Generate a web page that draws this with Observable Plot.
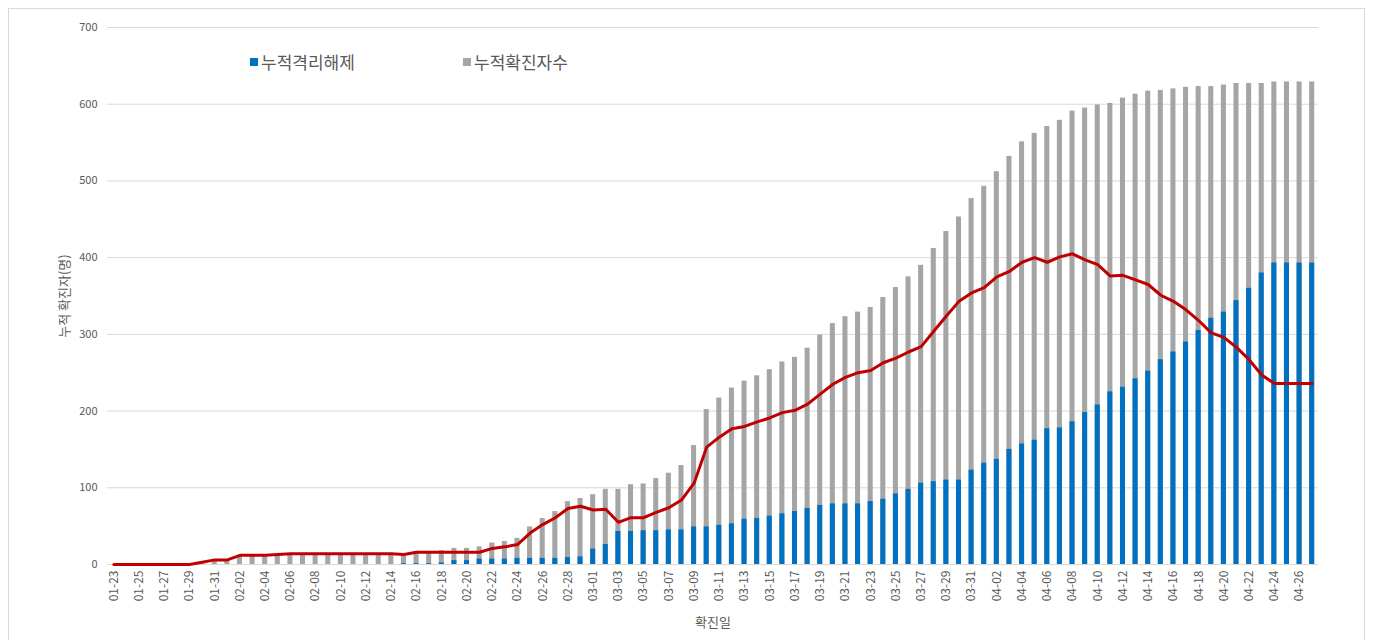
<!DOCTYPE html>
<html>
<head>
<meta charset="utf-8">
<script src="https://cdn.jsdelivr.net/npm/d3@7"></script>
<script src="https://cdn.jsdelivr.net/npm/@observablehq/plot@0.6"></script>
<style>
  html, body { margin: 0; padding: 0; background: #fff; overflow: hidden; }
  #wrap { position: relative; width: 1374px; height: 640px; overflow: hidden; font-family: "Noto Sans CJK KR", "Noto Sans", sans-serif; }
  #frame { position: absolute; left: 8px; top: 8px; width: 1357px; height: 700px; border: 1px solid #D9D9D9; box-sizing: border-box; }
  #chart { position: absolute; left: 0; top: 0; }
  .leg { position: absolute; top: 49px; font-size: 17px; color: #595959; display: flex; align-items: center; white-space: nowrap; }
  .sw { width: 8px; height: 8px; margin-right: 3px; display: inline-block; }
  #chart svg g[aria-label="y-axis label"] text, #chart svg g[aria-label="x-axis label"] text { font-size: 13px; }
</style>
</head>
<body>
<div id="wrap">
  <div id="frame"></div>
  <div id="chart"></div>
  <div class="leg" id="leg1" style="left:250px"><span class="sw" style="background:#0070C0"></span><span id="l1"></span></div>
  <div class="leg" id="leg2" style="left:463px"><span class="sw" style="background:#A5A5A5"></span><span id="l2"></span></div>
</div>
<script>
// Categories (확진일)
const dates = [
  "01-23","01-24","01-25","01-26","01-27","01-28","01-29","01-30","01-31",
  "02-01","02-02","02-03","02-04","02-05","02-06","02-07","02-08","02-09","02-10",
  "02-11","02-12","02-13","02-14","02-15","02-16","02-17","02-18","02-19","02-20",
  "02-21","02-22","02-23","02-24","02-25","02-26","02-27","02-28","02-29",
  "03-01","03-02","03-03","03-04","03-05","03-06","03-07","03-08","03-09","03-10",
  "03-11","03-12","03-13","03-14","03-15","03-16","03-17","03-18","03-19","03-20",
  "03-21","03-22","03-23","03-24","03-25","03-26","03-27","03-28","03-29","03-30","03-31",
  "04-01","04-02","04-03","04-04","04-05","04-06","04-07","04-08","04-09","04-10",
  "04-11","04-12","04-13","04-14","04-15","04-16","04-17","04-18","04-19","04-20",
  "04-21","04-22","04-23","04-24","04-25","04-26","04-27"
];

// 누적확진자수 (cumulative confirmed)
const totalCases = [
  0,0,0,0,0,0,0,3,6,
  6,12,12,12,13,14,14,14,14,14,
  14,14,14,14,14,17,17,18,21,21,
  23,28,30,34,49,60,69,82,86,
  91,98,98,104,105,112,119,129,155,202,
  217,230,239,246,254,264,270,282,299,314,
  323,329,335,348,361,375,390,412,434,453,477,
  493,512,532,551,562,571,579,591,595,599,
  601,608,613,617,618,620,622,623,623,625,
  627,627,627,629,629,629,629
];

// 누적격리해제 (cumulative released)
const releasedCases = [
  0,0,0,0,0,0,0,0,0,
  0,0,0,0,0,0,0,0,0,0,
  0,0,0,0,1,1,1,2,5,5,
  7,7,7,8,8,8,8,9,10,
  20,26,43,43,44,44,45,45,49,49,
  51,53,59,60,63,66,69,73,77,79,
  79,79,82,85,92,98,106,108,110,110,123,
  132,137,150,157,162,177,178,186,198,208,
  225,231,242,252,267,277,290,305,321,329,
  344,360,380,393,393,393,393
];

// 격리중 (active, red line)
const activeCases = [
  0,0,0,0,0,0,0,3,6,
  6,12,12,12,13,14,14,14,14,14,
  14,14,14,14,13,16,16,16,16,16,
  16,21,23,26,41,52,61,73,76,
  71,72,55,61,61,68,74,84,106,153,
  166,177,180,186,191,198,201,209,222,235,
  244,250,253,263,269,277,284,304,324,343,354,
  361,375,382,394,400,394,401,405,397,391,
  376,377,371,365,351,343,332,318,302,296,
  283,267,247,236,236,236,236
];

const yTicks = [0, 100, 200, 300, 400, 500, 600, 700];
const xTicks = dates.filter((d, i) => i % 2 === 0);
const seriesNames = ["누적격리해제", "누적확진자수"];
const yTitle = "누적 확진자(명)";
const xTitle = "확진일";

const rows = dates.map((d, i) => ({date: d, total: totalCases[i], released: releasedCases[i], active: activeCases[i]}));

document.getElementById("l1").textContent = seriesNames[0];
document.getElementById("l2").textContent = seriesNames[1];

const chart = Plot.plot({
  width: 1374,
  height: 640,
  marginLeft: 107,
  marginRight: 56,
  marginTop: 27,
  marginBottom: 76,
  style: {fontFamily: "'Noto Sans CJK KR', 'Noto Sans', sans-serif", fontSize: "11px", color: "#595959", background: "transparent"},
  x: {type: "band", domain: dates, paddingInner: 0.6, paddingOuter: 0.3},
  y: {domain: [0, 700]},
  marks: [
    Plot.gridY(yTicks, {stroke: "#D9D9D9", strokeOpacity: 1, strokeWidth: 1}),
    Plot.barY(rows, {x: "date", y: "total", fill: "#A5A5A5"}),
    Plot.barY(rows, {x: "date", y: "released", fill: "#0070C0"}),
    Plot.line(rows, {x: "date", y: "active", stroke: "#C00000", strokeWidth: 3, strokeLinejoin: "round"}),
    Plot.axisY({ticks: yTicks, tickSize: 0, tickPadding: 10, fontSize: 11, label: null}),
    Plot.axisY({ticks: [], label: yTitle, labelAnchor: "center", labelArrow: "none", labelOffset: 48, fontSize: 13}),
    Plot.axisX({ticks: xTicks, tickRotate: -90, tickSize: 0, tickPadding: 6, fontSize: 12, label: null}),
    Plot.axisX({ticks: [], label: xTitle, labelAnchor: "center", labelArrow: "none", labelOffset: 62, fontSize: 13})
  ]
});
document.getElementById("chart").appendChild(chart);
</script>
</body>
</html>
